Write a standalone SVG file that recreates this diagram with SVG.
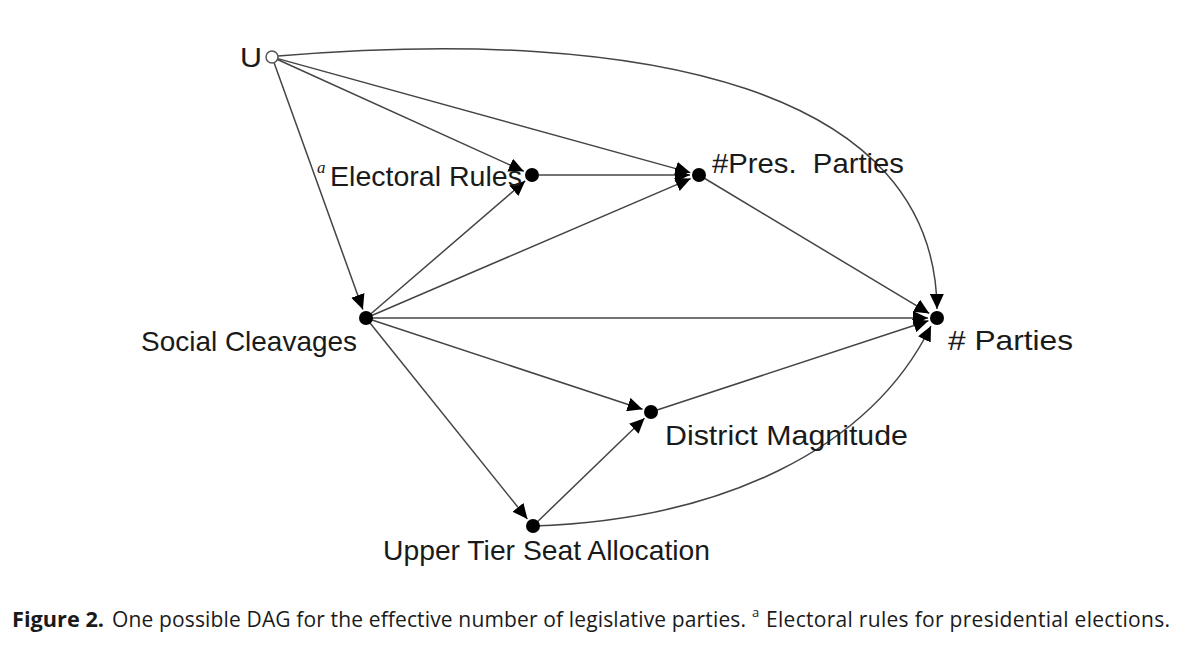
<svg xmlns="http://www.w3.org/2000/svg" width="1200" height="661" viewBox="0 0 1200 661">
<style>
.e{fill:none;stroke:#444;stroke-width:1.5;marker-end:url(#ah)}
.d{fill:#000}
.lbl{font-family:"Liberation Sans",Arial,sans-serif;font-size:28px;fill:#1a1a1a}
.cap{font-family:"Open Sans","Noto Sans",sans-serif;font-size:21px;fill:#1a1a1a}
.sup{font-family:"Open Sans","Noto Sans",sans-serif;font-size:13px;fill:#1a1a1a}
</style>
<defs>
<marker id="ah" markerUnits="userSpaceOnUse" markerWidth="16" markerHeight="14" refX="15" refY="7" orient="auto">
<path d="M0,0 L15,7 L0,14 Z" fill="#000"/>
</marker>
</defs>
<rect width="1200" height="661" fill="#fff"/>
<g id="connectors">
<path class="e" d="M277.5,59.5 L523.8,171.3"/>
<path class="e" d="M277.8,58.6 L690.3,172.6"/>
<path class="e" d="M274,62.6 L362.9,309.5"/>
<path class="e" d="M278,56 C650,25 935,90 937,309"/>
<path class="e" d="M539,175 L690,175"/>
<path class="e" d="M366,318 L525.2,180.9"/>
<path class="e" d="M366,318 L690.7,178.6"/>
<path class="e" d="M366,318 L928,318"/>
<path class="e" d="M366,318 L642.5,409.2"/>
<path class="e" d="M366,318 L527.4,519"/>
<path class="e" d="M699,175 L929.3,313.4"/>
<path class="e" d="M651,412 L928.4,320.8"/>
<path class="e" d="M533,526 L644.5,418.3"/>
<path class="e" d="M533,526 C720,520 870,450 931,326"/>
</g>
<g id="node-U">
<circle cx="272" cy="57" r="6" fill="#fff" stroke="#555" stroke-width="1.5"/>
<text class="lbl" x="240" y="67" textLength="22" lengthAdjust="spacingAndGlyphs">U</text>
</g>
<g id="node-electoral-rules">
<circle class="d" cx="532" cy="175" r="7"/>
<text font-family="Liberation Serif,serif" font-style="italic" font-size="17" x="317" y="173" fill="#1a1a1a">a</text>
<text class="lbl" x="330" y="186" textLength="192" lengthAdjust="spacingAndGlyphs">Electoral Rules</text>
</g>
<g id="node-pres-parties">
<circle class="d" cx="699" cy="175" r="7"/>
<text class="lbl" x="712" y="173" textLength="192" lengthAdjust="spacingAndGlyphs" xml:space="preserve">#Pres.  Parties</text>
</g>
<g id="node-social-cleavages">
<circle class="d" cx="366" cy="318" r="7"/>
<text class="lbl" x="141" y="351" textLength="216" lengthAdjust="spacingAndGlyphs">Social Cleavages</text>
</g>
<g id="node-parties">
<circle class="d" cx="937" cy="318" r="7"/>
<text class="lbl" x="948" y="350" textLength="125" lengthAdjust="spacingAndGlyphs"># Parties</text>
</g>
<g id="node-district-magnitude">
<circle class="d" cx="651" cy="412" r="7"/>
<text class="lbl" x="665" y="445" textLength="243" lengthAdjust="spacingAndGlyphs">District Magnitude</text>
</g>
<g id="node-upper-tier">
<circle class="d" cx="533" cy="526" r="7"/>
<text class="lbl" x="383" y="560" textLength="327" lengthAdjust="spacingAndGlyphs">Upper Tier Seat Allocation</text>
</g>
<g id="caption">
<text class="cap" x="12" y="627" font-weight="bold" textLength="92" lengthAdjust="spacingAndGlyphs">Figure 2.</text>
<text class="cap" x="112" y="627" textLength="634" lengthAdjust="spacing">One possible DAG for the effective number of legislative parties.</text>
<text class="sup" x="752" y="617">a</text>
<text class="cap" x="766" y="627" textLength="404" lengthAdjust="spacing">Electoral rules for presidential elections.</text>
</g>
</svg>
